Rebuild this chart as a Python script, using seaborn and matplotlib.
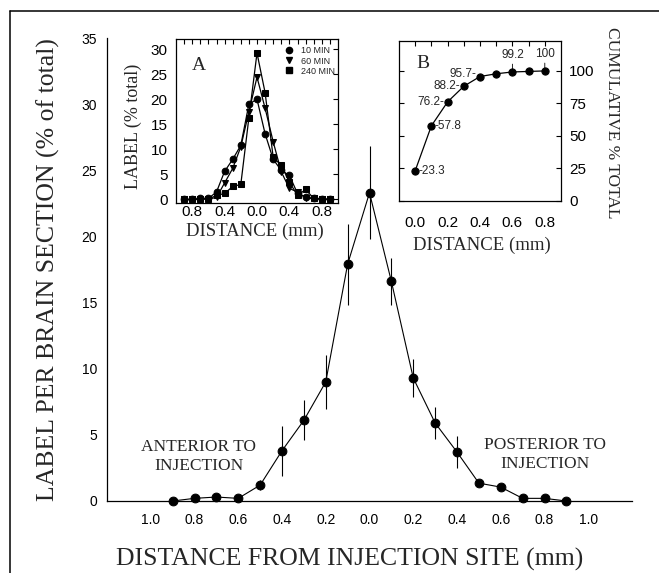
import matplotlib
matplotlib.use("Agg")
import matplotlib.pyplot as plt
from matplotlib.lines import Line2D
import pandas as pd
import seaborn as sns

# ---------------- data ----------------
distance = [-0.9, -0.8, -0.7, -0.6, -0.5, -0.4, -0.3, -0.2, -0.1, 0.0,
            0.1, 0.2, 0.3, 0.4, 0.5, 0.6, 0.7, 0.8, 0.9]
label_pct = [0.0, 0.2, 0.3, 0.2, 1.2, 3.8, 6.1, 9.0, 17.9, 23.3,
             16.6, 9.3, 5.9, 3.7, 1.35, 1.05, 0.2, 0.2, 0.0]
label_err = [0.0, 0.1, 0.1, 0.1, 0.4, 1.9, 1.5, 2.05, 3.05, 3.5,
             1.8, 1.45, 1.2, 1.2, 0.2, 0.2, 0.1, 0.1, 0.0]

a_10min = [0.0, 0.0, 0.2, 0.2, 1.5, 5.6, 8.0, 10.8, 19.0, 20.0,
           13.1, 8.0, 5.8, 4.8, 1.2, 0.5, 0.2, 0.1, 0.0]
a_60min = [0.0, 0.0, 0.1, 0.1, 0.4, 3.3, 6.2, 10.5, 17.5, 24.4,
           18.2, 11.5, 5.5, 2.2, 1.5, 0.3, 0.2, 0.1, 0.0]
a_240min = [0.0, 0.0, 0.1, 0.1, 0.8, 1.2, 2.6, 3.0, 16.3, 29.2,
            21.3, 8.4, 6.8, 3.5, 0.8, 2.0, 0.2, 0.1, 0.0]
a_times = ["10 MIN", "60 MIN", "240 MIN"]

b_distance = [0.0, 0.1, 0.2, 0.3, 0.4, 0.5, 0.6, 0.7, 0.8]
b_cumulative = [23.3, 57.8, 76.2, 88.2, 95.7, 97.8, 99.2, 99.6, 100.0]
b_texts = ["-23.3", "-57.8", "76.2-", "88.2-", "95.7-", "", "99.2", "", "100"]

main_ticks = [-1.2, -1.1, -1.0, -0.9, -0.8, -0.7, -0.6, -0.5, -0.4, -0.3, -0.2, -0.1, 0.0,
              0.1, 0.2, 0.3, 0.4, 0.5, 0.6, 0.7, 0.8, 0.9, 1.0, 1.1, 1.2]
main_tick_labels = ["", "", "1.0", "", "0.8", "", "0.6", "", "0.4", "", "0.2", "", "0.0",
                    "", "0.2", "", "0.4", "", "0.6", "", "0.8", "", "1.0", "", ""]
a_ticks = [-0.9, -0.8, -0.7, -0.6, -0.5, -0.4, -0.3, -0.2, -0.1, 0.0,
           0.1, 0.2, 0.3, 0.4, 0.5, 0.6, 0.7, 0.8, 0.9]
a_tick_labels = ["", "0.8", "", "", "", "0.4", "", "", "", "0.0",
                 "", "", "", "0.4", "", "", "", "0.8", ""]
b_ticks = [0.0, 0.1, 0.2, 0.3, 0.4, 0.5, 0.6, 0.7, 0.8]
b_tick_labels = ["0.0", "", "0.2", "", "0.4", "", "0.6", "", "0.8"]

# ---------------- style ----------------
sns.set_style("white")
plt.rcParams["font.family"] = ["Liberation Sans", "DejaVu Sans"]
SERIF = ["Liberation Serif", "DejaVu Serif"]
K = "black"

fig = plt.figure(figsize=(6.59, 5.73), dpi=100)
W, H = 659.0, 573.0

# figure frame (left and top)
fig.add_artist(Line2D([10 / W, 10 / W], [0, 1 - 11 / H], transform=fig.transFigure, color=K, lw=1.1))
fig.add_artist(Line2D([10 / W, 1.0], [1 - 11 / H, 1 - 11 / H], transform=fig.transFigure, color=K, lw=1.1))

# ---------------- main axes ----------------
ax = fig.add_axes([107 / W, 1 - 501 / H, 525 / W, 463 / H])
ax.set_facecolor("none")
sns.lineplot(x=distance, y=label_pct, ax=ax, color=K, lw=0.8, marker="o",
             markersize=6.3, markeredgecolor=K, errorbar=None)
ax.errorbar(distance, label_pct, yerr=label_err, fmt="none", ecolor=K, elinewidth=0.8, capsize=0)
for art in ax.get_children():
    try:
        art.set_clip_on(False)
    except Exception:
        pass
ax.set_xlim(-1.2, 1.2)
ax.set_ylim(0, 35)
ax.set_xticks(main_ticks)
ax.set_xticklabels(main_tick_labels)
ax.set_yticks([0, 5, 10, 15, 20, 25, 30, 35])
ax.spines["top"].set_visible(False)
ax.spines["right"].set_visible(False)
for s in ("left", "bottom"):
    ax.spines[s].set_linewidth(0.9)
    ax.spines[s].set_color(K)
ax.tick_params(axis="y", direction="in", length=5.5, width=0.9, pad=7, labelsize=10, colors=K)
ax.tick_params(axis="x", direction="out", length=6.5, width=0.9, pad=2.5, labelsize=10, colors=K)
ax.set_xlabel("DISTANCE FROM INJECTION SITE (mm)", family=SERIF, fontsize=18.5, va="center")
ax.xaxis.set_label_coords(0.463, -0.127)
ax.set_ylabel("LABEL PER BRAIN SECTION (% of total)", family=SERIF, fontsize=18.5, va="center")
ax.yaxis.set_label_coords(-0.112, 0.499)
ax.text(-0.78, 3.4, "ANTERIOR TO\nINJECTION", family=SERIF, fontsize=12.5,
        ha="center", va="center", linespacing=1.25)
ax.text(0.80, 3.55, "POSTERIOR TO\nINJECTION", family=SERIF, fontsize=12.5,
        ha="center", va="center", linespacing=1.25)

# ---------------- inset A ----------------
axA = fig.add_axes([176 / W, 1 - 203 / H, 162 / W, 164 / H])
dfA = pd.DataFrame({
    "distance": distance * 3,
    "label": a_10min + a_60min + a_240min,
    "time": [a_times[0]] * len(distance) + [a_times[1]] * len(distance) + [a_times[2]] * len(distance),
})
markers = {"10 MIN": "o", "60 MIN": "v", "240 MIN": "s"}
sns.lineplot(data=dfA, x="distance", y="label", hue="time", style="time", hue_order=a_times,
             style_order=a_times, markers=markers, dashes=False, palette={t: K for t in a_times},
             lw=0.9, markersize=4.8, markeredgecolor=K, errorbar=None, legend=False, ax=axA)
for ln in axA.get_lines():
    ln.set_clip_on(False)
axA.set_xlim(-1.0, 1.0)
axA.set_ylim(-0.7, 32)
axA.set_xticks(a_ticks)
axA.set_xticklabels(a_tick_labels)
axA.set_yticks([0, 5, 10, 15, 20, 25, 30])
axA.tick_params(direction="in", top=True, right=True, length=3.5, width=0.8, labelsize=11, colors=K)
axA.tick_params(axis="y", pad=6)
axA.tick_params(axis="x", pad=1.5)
for s in axA.spines.values():
    s.set_linewidth(0.9)
    s.set_color(K)
axA.set_xlabel("DISTANCE (mm)", family=SERIF, fontsize=13.5, va="center")
axA.xaxis.set_label_coords(0.488, -0.17)
axA.set_ylabel("LABEL (% total)", family=SERIF, fontsize=13, va="center")
axA.yaxis.set_label_coords(-0.265, 0.47)
axA.text(0.142, 0.84, "A", transform=axA.transAxes, family=SERIF, fontsize=14, ha="center", va="center")
handles = [Line2D([], [], marker=markers[t], color=K, ls="none", markersize=4.5) for t in a_times]
axA.legend(handles, a_times, loc="upper right", bbox_to_anchor=(0.99, 0.96), frameon=False,
           fontsize=6.5, handlelength=0.8, handletextpad=1.0, labelspacing=0.12,
           borderpad=0.1, borderaxespad=0)

# ---------------- inset B ----------------
axB = fig.add_axes([399 / W, 1 - 201 / H, 162 / W, 160 / H])
sns.lineplot(x=b_distance, y=b_cumulative, ax=axB, color=K, lw=0.9, marker="o",
             markersize=5.2, markeredgecolor=K, errorbar=None)
axB.set_xlim(-0.1, 0.9)
axB.set_ylim(0, 123)
axB.set_xticks(b_ticks)
axB.set_xticklabels(b_tick_labels)
axB.set_yticks([0, 25, 50, 75, 100])
axB.tick_params(direction="in", top=True, right=True, left=True, labelleft=False, labelright=True,
                length=3.5, width=0.8, labelsize=11, colors=K)
axB.tick_params(axis="y", pad=6)
axB.tick_params(axis="x", pad=11)
for s in axB.spines.values():
    s.set_linewidth(0.9)
    s.set_color(K)
axB.set_xlabel("DISTANCE (mm)", family=SERIF, fontsize=13.5, va="center")
axB.xaxis.set_label_coords(0.51, -0.275)
axB.yaxis.set_label_position("right")
axB.set_ylabel("CUMULATIVE % TOTAL", family=SERIF, fontsize=12.5, rotation=-90, va="center", ha="center")
axB.yaxis.set_label_coords(1.315, 0.49)
axB.text(0.148, 0.86, "B", transform=axB.transAxes, family=SERIF, fontsize=14, ha="center", va="center")
for xv, yv, t in zip(b_distance, b_cumulative, b_texts):
    if not t:
        continue
    if t.startswith("-"):
        axB.annotate(t, (xv, yv), xytext=(2.5, 0), textcoords="offset points",
                     ha="left", va="center", fontsize=8.5)
    elif t.endswith("-"):
        dy = 1.5 if yv > 95 else 0
        axB.annotate(t, (xv, yv), xytext=(-2.5, dy), textcoords="offset points",
                     ha="right", va="center", fontsize=8.5)
    else:
        axB.annotate(t, (xv, yv), xytext=(0, 8), textcoords="offset points",
                     ha="center", va="bottom", fontsize=8.5,
                     arrowprops=dict(arrowstyle="-", lw=0.6, color=K, shrinkA=0, shrinkB=2))

fig.savefig("out.png", dpi=100)
